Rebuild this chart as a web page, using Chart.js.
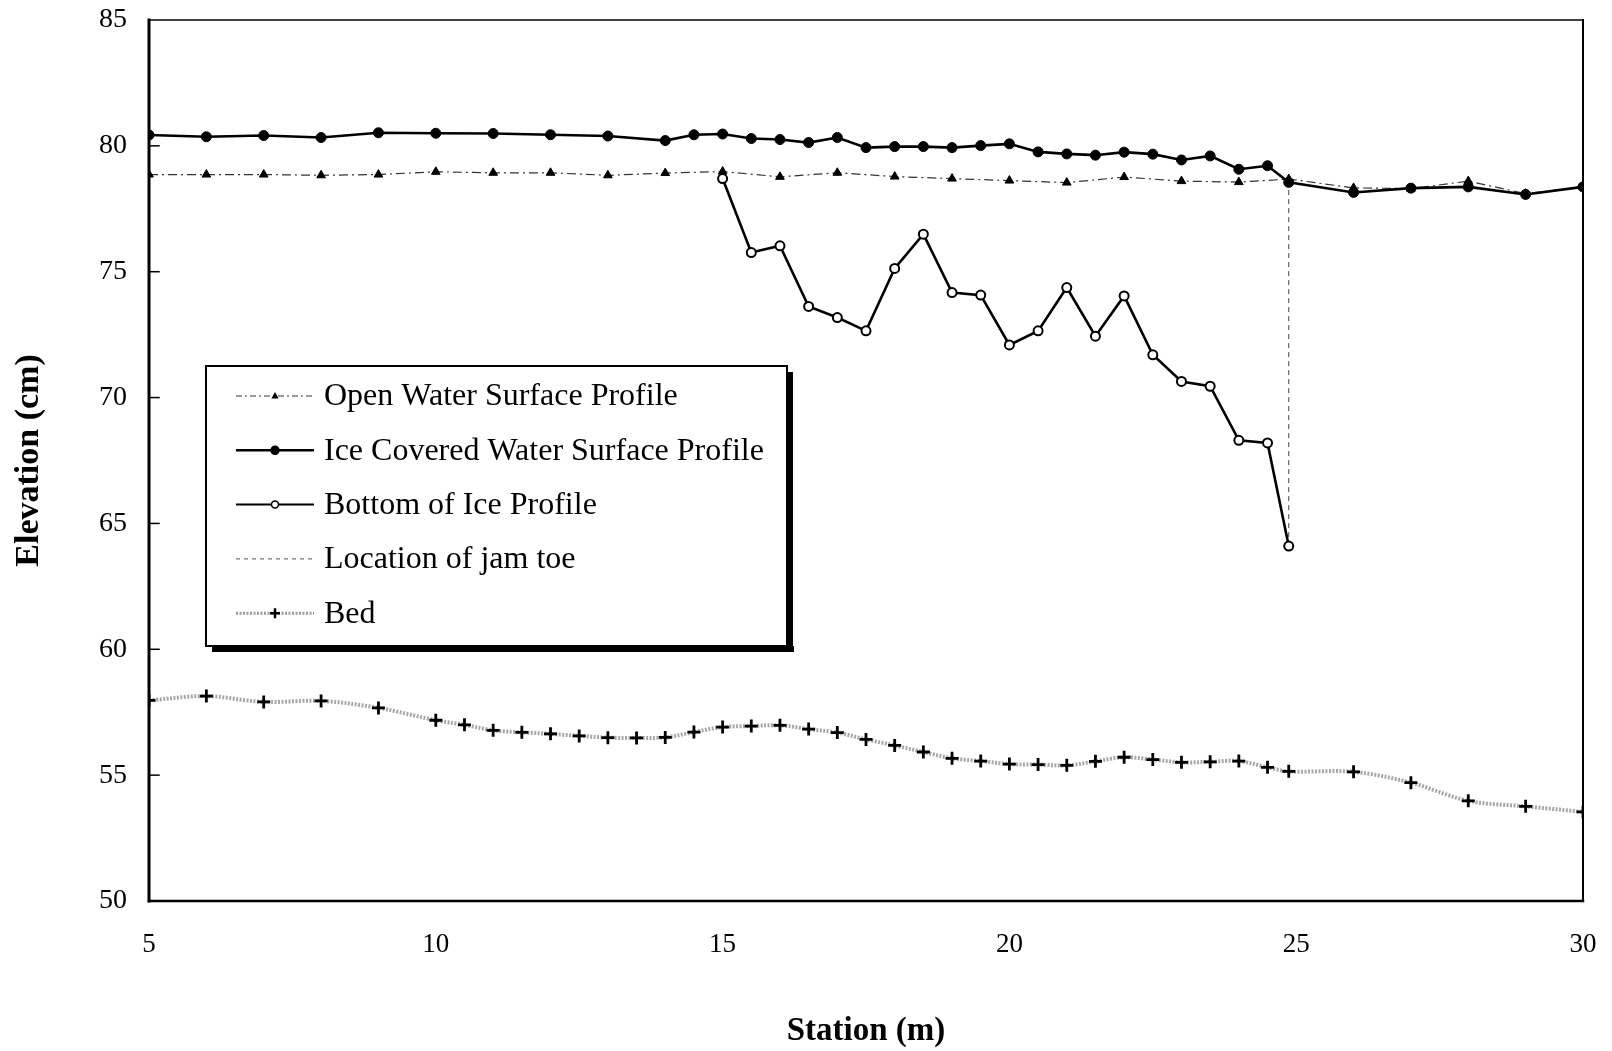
<!DOCTYPE html>
<html>
<head>
<meta charset="utf-8">
<script src="https://cdn.jsdelivr.net/npm/chart.js@4.4.1/dist/chart.umd.min.js"></script>
<style>
  html, body { margin: 0; padding: 0; background: #fff; }
  canvas { display: block; }
</style>
</head>
<body>
<canvas id="chart" width="1612" height="1051"></canvas>
<script>
// Datos (estación en m, elevación en cm)
const openStations = [5, 6, 7, 8, 9, 10, 11, 12, 13, 14, 15, 16, 17, 18, 19, 20, 21, 22, 23, 24, 24.87, 26, 27, 28, 29, 30];
const openElev = [78.86, 78.86, 78.86, 78.83, 78.86, 78.97, 78.93, 78.93, 78.83, 78.92, 78.98, 78.77, 78.93, 78.78, 78.70, 78.62, 78.54, 78.76, 78.60, 78.56, 78.68, 78.33, 78.30, 78.60, 78.10, 78.37];

const iceStations = [5, 6, 7, 8, 9, 10, 11, 12, 13, 14, 14.5, 15, 15.5, 16, 16.5, 17, 17.5, 18, 18.5, 19, 19.5, 20, 20.5, 21, 21.5, 22, 22.5, 23, 23.5, 24, 24.5, 24.87, 26, 27, 28, 29, 30];
const iceElev = [80.43, 80.36, 80.41, 80.33, 80.52, 80.50, 80.49, 80.44, 80.39, 80.21, 80.44, 80.47, 80.29, 80.25, 80.13, 80.33, 79.93, 79.97, 79.97, 79.93, 80.01, 80.08, 79.76, 79.68, 79.63, 79.75, 79.67, 79.44, 79.60, 79.07, 79.21, 78.55, 78.15, 78.32, 78.37, 78.07, 78.37];

const bottomStations = [15, 15.5, 16, 16.5, 17, 17.5, 18, 18.5, 19, 19.5, 20, 20.5, 21, 21.5, 22, 22.5, 23, 23.5, 24, 24.5, 24.87];
const bottomElev = [78.70, 75.76, 76.03, 73.62, 73.18, 72.65, 75.13, 76.49, 74.17, 74.07, 72.09, 72.65, 74.37, 72.44, 74.04, 71.70, 70.64, 70.45, 68.30, 68.20, 64.10];

const toeStations = [24.87, 24.87];
const toeElev = [78.60, 64.10];

const bedStations = [5, 6, 7, 8, 9, 10, 10.5, 11, 11.5, 12, 12.5, 13, 13.5, 14, 14.5, 15, 15.5, 16, 16.5, 17, 17.5, 18, 18.5, 19, 19.5, 20, 20.5, 21, 21.5, 22, 22.5, 23, 23.5, 24, 24.5, 24.87, 26, 27, 28, 29, 30];
const bedElev = [57.97, 58.14, 57.91, 57.95, 57.67, 57.18, 57.00, 56.78, 56.70, 56.64, 56.56, 56.49, 56.48, 56.50, 56.71, 56.91, 56.95, 56.98, 56.83, 56.69, 56.42, 56.18, 55.92, 55.67, 55.56, 55.44, 55.42, 55.39, 55.55, 55.71, 55.62, 55.51, 55.53, 55.56, 55.31, 55.15, 55.13, 54.70, 53.98, 53.76, 53.54];

const xTicks = [5, 10, 15, 20, 25, 30];
const yTicks = [50, 55, 60, 65, 70, 75, 80, 85];

const SERIF = "'Liberation Serif', 'Times New Roman', serif";

const toPts = (xs, ys) => xs.map((x, i) => ({ x: x, y: ys[i] }));

/**
 * Marco del área de gráfico y marcas internas del eje Y
 */
const framePlugin = {
  id: 'frame',
  afterDatasetsDraw(chart) {
    const { ctx, chartArea: a, scales } = chart;
    ctx.save();
    ctx.strokeStyle = '#000';
    ctx.lineCap = 'square';
    // bordes
    ctx.lineWidth = 1.5;
    ctx.beginPath(); ctx.moveTo(a.left, a.top); ctx.lineTo(a.right, a.top); ctx.stroke();
    ctx.lineWidth = 2;
    ctx.beginPath(); ctx.moveTo(a.right, a.top); ctx.lineTo(a.right, a.bottom); ctx.stroke();
    ctx.lineWidth = 2.5;
    ctx.beginPath(); ctx.moveTo(a.left, a.bottom); ctx.lineTo(a.right, a.bottom); ctx.stroke();
    ctx.lineWidth = 3;
    ctx.beginPath(); ctx.moveTo(a.left, a.top); ctx.lineTo(a.left, a.bottom); ctx.stroke();
    // marcas hacia adentro
    ctx.lineWidth = 1.5;
    yTicks.slice(1, -1).forEach(v => {
      const y = scales.y.getPixelForValue(v);
      ctx.beginPath(); ctx.moveTo(a.left, y); ctx.lineTo(a.left + 10, y); ctx.stroke();
    });
    ctx.restore();
  }
};

/**
 * Dibujar un marcador sencillo
 */
function drawMarker(ctx, style, x, y, r, fill) {
  ctx.save();
  ctx.strokeStyle = '#000';
  ctx.fillStyle = fill;
  ctx.setLineDash([]);
  ctx.beginPath();
  if (style === 'triangle') {
    ctx.moveTo(x, y - r);
    ctx.lineTo(x + r * 0.9, y + r * 0.6);
    ctx.lineTo(x - r * 0.9, y + r * 0.6);
    ctx.closePath();
    ctx.fill();
  } else if (style === 'circle') {
    ctx.lineWidth = 1.5;
    ctx.arc(x, y, r, 0, Math.PI * 2);
    ctx.fill();
    ctx.stroke();
  } else if (style === 'cross') {
    ctx.lineWidth = 2.5;
    ctx.moveTo(x - r, y); ctx.lineTo(x + r, y);
    ctx.moveTo(x, y - r); ctx.lineTo(x, y + r);
    ctx.stroke();
  }
  ctx.restore();
}

/**
 * Leyenda dentro del área con sombra
 */
const legendPlugin = {
  id: 'boxLegend',
  afterDraw(chart) {
    const ctx = chart.ctx;
    const box = { l: 206, t: 366, r: 787, b: 646 };
    ctx.save();
    // sombra
    ctx.fillStyle = '#000';
    ctx.fillRect(box.l + 6, box.b, box.r - box.l + 1, 6);
    ctx.fillRect(box.r, box.t + 6, 6, box.b - box.t);
    ctx.fillStyle = '#fff';
    ctx.fillRect(box.l, box.t, box.r - box.l, box.b - box.t);
    ctx.strokeStyle = '#000';
    ctx.lineWidth = 2;
    ctx.strokeRect(box.l, box.t, box.r - box.l, box.b - box.t);

    const rows = [
      { text: 'Open Water Surface Profile', color: '#333', width: 1, dash: [6, 3, 2, 3], marker: 'triangle', r: 4, fill: '#000' },
      { text: 'Ice Covered Water Surface Profile', color: '#000', width: 2.5, dash: [], marker: 'circle', r: 4, fill: '#000' },
      { text: 'Bottom of Ice Profile', color: '#000', width: 2, dash: [], marker: 'circle', r: 3.5, fill: '#fff' },
      { text: 'Location of jam toe', color: '#555', width: 1, dash: [4, 4], marker: null },
      { text: 'Bed', color: '#999', width: 3, dash: [2, 1.5], marker: 'cross', r: 5, fill: '#000' }
    ];
    ctx.font = '32px ' + SERIF;
    ctx.textBaseline = 'middle';
    ctx.textAlign = 'left';
    rows.forEach((row, i) => {
      const y = 396 + i * 54.3;
      ctx.save();
      ctx.strokeStyle = row.color;
      ctx.lineWidth = row.width;
      ctx.setLineDash(row.dash);
      ctx.beginPath(); ctx.moveTo(236, y); ctx.lineTo(314, y); ctx.stroke();
      ctx.restore();
      if (row.marker) drawMarker(ctx, row.marker, 275, y, row.r, row.fill);
      ctx.fillStyle = '#000';
      ctx.fillText(row.text, 324, y + 1);
    });
    ctx.restore();
  }
};

const ctx = document.getElementById('chart').getContext('2d');

new Chart(ctx, {
  type: 'line',
  data: {
    datasets: [
      {
        label: 'Open Water Surface Profile',
        data: toPts(openStations, openElev),
        borderColor: '#333',
        borderWidth: 1.2,
        borderDash: [9, 4, 2, 4],
        pointStyle: 'triangle',
        pointRadius: 5,
        pointBackgroundColor: '#000',
        pointBorderColor: '#000',
        pointBorderWidth: 1,
        tension: 0,
        order: 2
      },
      {
        label: 'Ice Covered Water Surface Profile',
        data: toPts(iceStations, iceElev),
        borderColor: '#000',
        borderWidth: 2.6,
        pointStyle: 'circle',
        pointRadius: 5,
        pointBackgroundColor: '#000',
        pointBorderColor: '#000',
        pointBorderWidth: 1,
        tension: 0,
        order: 1
      },
      {
        label: 'Bottom of Ice Profile',
        data: toPts(bottomStations, bottomElev),
        borderColor: '#000',
        borderWidth: 2.6,
        pointStyle: 'circle',
        pointRadius: 4.5,
        pointBackgroundColor: '#fff',
        pointBorderColor: '#000',
        pointBorderWidth: 2,
        tension: 0,
        order: 0
      },
      {
        label: 'Location of jam toe',
        data: toPts(toeStations, toeElev),
        borderColor: '#444',
        borderWidth: 1,
        borderDash: [5, 4],
        pointRadius: 0,
        tension: 0,
        order: 3
      },
      {
        label: 'Bed',
        data: toPts(bedStations, bedElev),
        borderColor: 'rgba(150,150,150,0.85)',
        borderWidth: 4,
        borderDash: [2, 1.5],
        pointStyle: 'cross',
        pointRadius: 6.5,
        pointBorderColor: '#000',
        pointBorderWidth: 2.8,
        tension: 0.35,
        order: 4
      }
    ]
  },
  options: {
    responsive: false,
    devicePixelRatio: 1,
    animation: false,
    layout: {
      padding: { left: 0, top: 20, right: 29, bottom: 0 }
    },
    plugins: {
      legend: { display: false },
      tooltip: { enabled: false }
    },
    scales: {
      x: {
        type: 'linear',
        min: 5,
        max: 30,
        afterBuildTicks: (scale) => { scale.ticks = xTicks.map(v => ({ value: v })); },
        afterFit: (scale) => {
          scale.height = 150;
          scale.paddingLeft = 0;
          scale.paddingRight = 0;
        },
        grid: { display: false, drawTicks: false },
        border: { display: false },
        ticks: {
          padding: 28,
          color: '#000',
          font: { family: SERIF, size: 27 }
        },
        title: {
          display: true,
          text: 'Station (m)',
          color: '#000',
          font: { family: SERIF, size: 33, weight: 'bold' },
          padding: { top: 0, bottom: 0 }
        }
      },
      y: {
        type: 'linear',
        min: 50,
        max: 85,
        afterBuildTicks: (scale) => { scale.ticks = yTicks.map(v => ({ value: v })); },
        afterFit: (scale) => {
          scale.width = 149;
          scale.paddingTop = 0;
          scale.paddingBottom = 0;
        },
        grid: { display: false, drawTicks: false },
        border: { display: false },
        ticks: {
          padding: 22,
          color: '#000',
          font: { family: SERIF, size: 28 }
        },
        title: {
          display: true,
          text: 'Elevation (cm)',
          color: '#000',
          font: { family: SERIF, size: 34, weight: 'bold' },
          padding: { top: 9, bottom: 0 }
        }
      }
    }
  },
  plugins: [framePlugin, legendPlugin]
});
</script>
</body>
</html>
